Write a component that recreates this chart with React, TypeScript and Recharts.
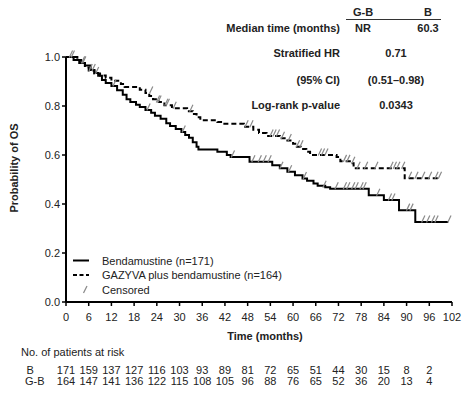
import React from 'react';
import { ComposedChart, Line, Scatter, XAxis, YAxis } from 'recharts';

const months = [0, 6, 12, 18, 24, 30, 36, 42, 48, 54, 60, 66, 72, 78, 84, 90, 96, 102];
const yTicks = [0, 0.2, 0.4, 0.6, 0.8, 1.0];
const riskB = [171, 159, 137, 127, 116, 103, 93, 89, 81, 72, 65, 51, 44, 30, 15, 8, 2];
const riskGB = [164, 147, 141, 136, 122, 115, 108, 105, 96, 88, 76, 65, 52, 36, 20, 13, 4];

// Kaplan-Meier steps: [time, survival]
const kmB = [
  [0, 1.0], [2, 0.988], [3.5, 0.976], [5, 0.965], [6.5, 0.947], [7.5, 0.935], [8.5, 0.923],
  [9.5, 0.906], [10.5, 0.894], [12, 0.882], [13.5, 0.864], [15, 0.846], [16, 0.828],
  [17, 0.816], [18.5, 0.805], [19.5, 0.796], [21, 0.784], [22.5, 0.772], [23.5, 0.76],
  [25, 0.748], [26.5, 0.73], [27.5, 0.718], [29, 0.706], [30.5, 0.694], [31.5, 0.682],
  [32.5, 0.67], [33.5, 0.652], [34.5, 0.634], [35, 0.622], [40, 0.613], [42.5, 0.6],
  [43.5, 0.592], [48.5, 0.572], [54.5, 0.558], [56.5, 0.546], [58.5, 0.532], [60.5, 0.517],
  [62.5, 0.504], [63.7, 0.495], [65.4, 0.484], [66.5, 0.475], [68.5, 0.468], [69.8, 0.462],
  [80, 0.436], [84, 0.416], [88, 0.375], [92.3, 0.327], [101, 0.327],
].map(([t, s]) => ({ t, s }));

const kmGB = [
  [0, 1.0], [3, 0.988], [4, 0.976], [5, 0.957], [6, 0.945], [7.5, 0.933], [9, 0.925],
  [10.5, 0.915], [12, 0.903], [14.5, 0.89], [15.5, 0.878], [19.5, 0.866], [21, 0.853],
  [22, 0.841], [23, 0.828], [24.5, 0.816], [26, 0.803], [28, 0.791], [32, 0.779],
  [33.5, 0.767], [34.5, 0.754], [35.5, 0.742], [40, 0.735], [41.5, 0.728], [47, 0.715],
  [49.5, 0.703], [51, 0.69], [53, 0.678], [56.5, 0.668], [58.5, 0.659], [60, 0.646],
  [61, 0.634], [62, 0.625], [63.5, 0.613], [64.5, 0.6], [71.5, 0.592], [72.5, 0.574],
  [75, 0.566], [76, 0.546], [89.5, 0.505], [98.5, 0.505],
].map(([t, s]) => ({ t, s }));

const censorB = [
  [1, 1.0], [4.5, 0.976], [12.5, 0.882], [21.5, 0.784], [30.8, 0.694], [43.8, 0.592],
  [49.2, 0.572], [50.9, 0.572], [52.2, 0.572], [53.5, 0.572], [56.6, 0.546], [58.9, 0.532],
  [62.8, 0.504], [68, 0.468], [71.2, 0.462], [73.4, 0.462], [74.3, 0.462], [75.6, 0.462],
  [76.5, 0.462], [77.8, 0.462], [78.6, 0.462], [82.2, 0.436], [85.3, 0.416], [86.2, 0.416],
  [90.1, 0.375], [91, 0.375], [94.1, 0.327], [95.4, 0.327], [96.7, 0.327], [97.6, 0.327],
  [101, 0.327],
].map(([t, s]) => ({ t, s }));

const censorGB = [
  [1.5, 1.0], [4.2, 0.976], [6.2, 0.945], [7, 0.945], [7.9, 0.933], [22.2, 0.853],
  [24, 0.816], [24.4, 0.816], [26.2, 0.803], [26.6, 0.803], [28.4, 0.791], [32.8, 0.779],
  [47.4, 0.715], [48.7, 0.715], [54, 0.678], [54.8, 0.678], [55.7, 0.678], [57, 0.668],
  [58.8, 0.659], [61, 0.634], [61.9, 0.634], [66.8, 0.6], [67.6, 0.6], [68.5, 0.6],
  [73.4, 0.574], [74.3, 0.574], [75.6, 0.566], [77, 0.546], [79, 0.546], [81.7, 0.546],
  [85.7, 0.546], [86.6, 0.546], [87.5, 0.546], [88.8, 0.546], [90.6, 0.505], [92.3, 0.505],
  [94.1, 0.505], [95.9, 0.505], [97.6, 0.505], [98.5, 0.505],
].map(([t, s]) => ({ t, s }));

const FONT = '"Liberation Sans", Arial, Helvetica, sans-serif';
const TXT = '#222';

const Slash = (props: any) => {
  const { cx, cy } = props;
  if (cx == null || cy == null) return <g />;
  return <line x1={cx - 0.5} y1={cy + 0.5} x2={cx + 2.8} y2={cy - 6.5} stroke="#8a8a8a" strokeWidth={1.2} />;
};

const XTick = (props: any) => {
  const { x, y, payload } = props;
  const i = months.indexOf(payload.value);
  return (
    <g fontFamily={FONT} fontSize={11} fill={TXT}>
      <text x={x} y={y} dy="0.71em" textAnchor="middle" fill={TXT}>{payload.value}</text>
      {i >= 0 && riskB[i] != null && (
        <text x={x} y={374} textAnchor="middle" fill={TXT}>{riskB[i]}</text>
      )}
      {i >= 0 && riskGB[i] != null && (
        <text x={x} y={385} textAnchor="middle" fill={TXT}>{riskGB[i]}</text>
      )}
    </g>
  );
};

const YTick = (props: any) => {
  const { x, y, payload } = props;
  return (
    <text x={x} y={y} dy="0.355em" textAnchor="end" fontFamily={FONT} fontSize={11} fill={TXT}>
      {Number(payload.value).toFixed(1)}
    </text>
  );
};

export default function App() {
  return (
    <div style={{ position: 'absolute', left: 0, top: 0, width: 469, height: 395, background: '#fff' }}>
      <ComposedChart width={469} height={395} margin={{ top: 57, right: 17, bottom: 63, left: 26 }}>
        <XAxis
          dataKey="t"
          type="number"
          domain={[0, 102]}
          ticks={months}
          interval={0}
          allowDataOverflow
          height={30}
          tickSize={4}
          tickMargin={7}
          axisLine={{ stroke: '#000', strokeWidth: 2 }}
          tickLine={{ stroke: '#000', strokeWidth: 1.5 }}
          tick={<XTick />}
          label={{
            content: (p: any) => {
              const vb = p.viewBox || { x: 66, width: 386 };
              return (
                <text x={vb.x + vb.width / 2 + 6} y={340} textAnchor="middle" fontFamily={FONT} fontSize={11} fontWeight="bold" fill={TXT}>
                  Time (months)
                </text>
              );
            },
          }}
        />
        <YAxis
          type="number"
          domain={[0, 1]}
          ticks={yTicks}
          interval={0}
          width={40}
          tickSize={4}
          tickMargin={2}
          axisLine={{ stroke: '#000', strokeWidth: 2 }}
          tickLine={{ stroke: '#000', strokeWidth: 1.5 }}
          tick={<YTick />}
          label={{
            content: () => (
              <text x={18} y={168} transform="rotate(-90 18 168)" textAnchor="middle" fontFamily={FONT} fontSize={11} fontWeight="bold" fill={TXT}>
                Probability of OS
              </text>
            ),
          }}
        />
        <Line data={kmB} dataKey="s" type="stepAfter" stroke="#000" strokeWidth={2} dot={false} isAnimationActive={false} />
        <Line data={kmGB} dataKey="s" type="stepAfter" stroke="#000" strokeWidth={2} strokeDasharray="5 3" dot={false} isAnimationActive={false} />
        <Scatter data={censorB} dataKey="s" shape={Slash} isAnimationActive={false} />
        <Scatter data={censorGB} dataKey="s" shape={Slash} isAnimationActive={false} />
      </ComposedChart>
      <svg width={469} height={395} style={{ position: 'absolute', left: 0, top: 0, pointerEvents: 'none' }}>
        <g fontFamily={FONT} fontSize={11} fill={TXT}>
          {/* Top-right table */}
          <g fontWeight="bold">
            <text x={363} y={16} textAnchor="middle">G-B</text>
            <text x={428} y={16} textAnchor="middle">B</text>
            <text x={340} y={32} textAnchor="end">Median time (months)</text>
            <text x={363} y={32} textAnchor="middle">NR</text>
            <text x={428} y={32} textAnchor="middle">60.3</text>
            <text x={340} y={57} textAnchor="end">Stratified HR</text>
            <text x={396} y={57} textAnchor="middle">0.71</text>
            <text x={340} y={84} textAnchor="end">(95% CI)</text>
            <text x={396} y={84} textAnchor="middle">(0.51–0.98)</text>
            <text x={340} y={109} textAnchor="end">Log-rank p-value</text>
            <text x={396} y={109} textAnchor="middle">0.0343</text>
          </g>
          <line x1={346} y1={19.5} x2={441} y2={19.5} stroke="#333" strokeWidth={1} />
          {/* Legend */}
          <line x1={73} y1={260.5} x2={89} y2={260.5} stroke="#000" strokeWidth={2} />
          <text x={102} y={264.5}>Bendamustine (n=171)</text>
          <line x1={73} y1={275} x2={89} y2={275} stroke="#000" strokeWidth={2} strokeDasharray="4 2.5" />
          <text x={102} y={279}>GAZYVA plus bendamustine (n=164)</text>
          <line x1={83.5} y1={293} x2={87} y2={286} stroke="#8a8a8a" strokeWidth={1.2} />
          <text x={102} y={293.5}>Censored</text>
          {/* Risk table labels */}
          <text x={21} y={356}>No. of patients at risk</text>
          <text x={26.5} y={374}>B</text>
          <text x={25} y={385}>G-B</text>
        </g>
      </svg>
    </div>
  );
}
